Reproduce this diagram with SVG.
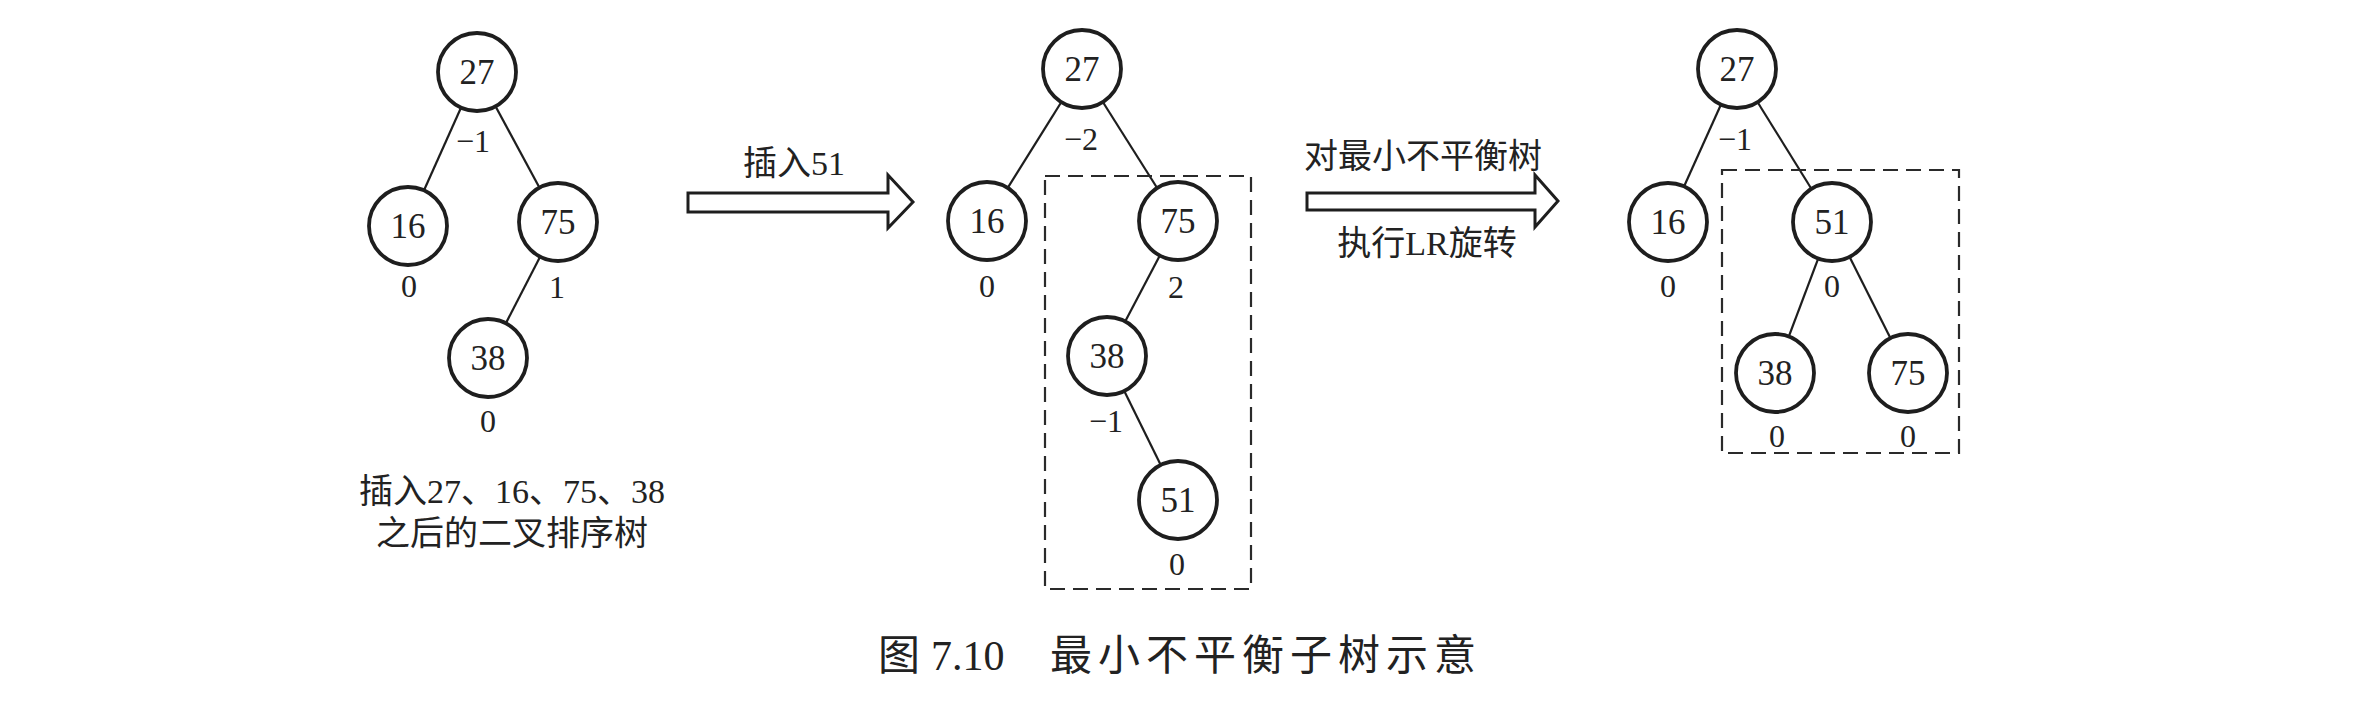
<svg xmlns="http://www.w3.org/2000/svg" width="2365" height="704" viewBox="0 0 2365 704">
<style>
.bg{fill:#ffffff}
.node circle{fill:#ffffff;stroke:#1e1e1e;stroke-width:3.8}
.node text{font-family:"Liberation Serif","Noto Sans CJK SC",serif;font-size:35px;fill:#222;text-anchor:middle}
.edge{stroke:#1e1e1e;stroke-width:2.2;fill:none}
.bf{font-family:"Liberation Serif","Noto Sans CJK SC",serif;font-size:32px;fill:#222;text-anchor:middle}
.box{fill:none;stroke:#2a2a2a;stroke-width:2.2;stroke-dasharray:15 8}
.arrow{fill:#ffffff;stroke:#1e1e1e;stroke-width:3;stroke-linejoin:miter}
.lbl{font-family:"Liberation Serif","Noto Sans CJK SC",serif;font-size:34px;fill:#222;text-anchor:middle}
.cap{font-family:"Liberation Serif","Noto Sans CJK SC",serif;font-size:42px;fill:#222}
</style>
<rect class="bg" x="0" y="0" width="2365" height="704"/>

<g id="connectors">
  <!-- left tree -->
  <line class="edge" x1="477" y1="72" x2="408" y2="226"/>
  <line class="edge" x1="477" y1="72" x2="558" y2="222"/>
  <line class="edge" x1="558" y1="222" x2="488" y2="358"/>
  <!-- middle tree -->
  <line class="edge" x1="1082" y1="69" x2="987" y2="221"/>
  <line class="edge" x1="1082" y1="69" x2="1178" y2="221"/>
  <line class="edge" x1="1178" y1="221" x2="1107" y2="356"/>
  <line class="edge" x1="1107" y1="356" x2="1178" y2="500"/>
  <!-- right tree -->
  <line class="edge" x1="1737" y1="69" x2="1668" y2="222"/>
  <line class="edge" x1="1737" y1="69" x2="1832" y2="222"/>
  <line class="edge" x1="1832" y1="222" x2="1775" y2="373"/>
  <line class="edge" x1="1832" y1="222" x2="1908" y2="373"/>
  <!-- block arrows -->
  <polygon class="arrow" points="688,193 888,193 888,175 913,202 888,228 888,212 688,212"/>
  <polygon class="arrow" points="1307,193 1535,193 1535,175 1558,201 1535,227 1535,210 1307,210"/>
</g>

<g id="boxes">
  <rect class="box" x="1045" y="176" width="206" height="413"/>
  <rect class="box" x="1722" y="170" width="237" height="283"/>
</g>

<!-- left tree nodes -->
<g id="L27" class="node"><circle cx="477" cy="72" r="39"/><text x="477" y="84">27</text></g>
<g id="L16" class="node"><circle cx="408" cy="226" r="39"/><text x="408" y="238">16</text></g>
<g id="L75" class="node"><circle cx="558" cy="222" r="39"/><text x="558" y="234">75</text></g>
<g id="L38" class="node"><circle cx="488" cy="358" r="39"/><text x="488" y="370">38</text></g>

<!-- middle tree nodes -->
<g id="M27" class="node"><circle cx="1082" cy="69" r="39"/><text x="1082" y="81">27</text></g>
<g id="M16" class="node"><circle cx="987" cy="221" r="39"/><text x="987" y="233">16</text></g>
<g id="M75" class="node"><circle cx="1178" cy="221" r="39"/><text x="1178" y="233">75</text></g>
<g id="M38" class="node"><circle cx="1107" cy="356" r="39"/><text x="1107" y="368">38</text></g>
<g id="M51" class="node"><circle cx="1178" cy="500" r="39"/><text x="1178" y="512">51</text></g>

<!-- right tree nodes -->
<g id="R27" class="node"><circle cx="1737" cy="69" r="39"/><text x="1737" y="81">27</text></g>
<g id="R16" class="node"><circle cx="1668" cy="222" r="39"/><text x="1668" y="234">16</text></g>
<g id="R51" class="node"><circle cx="1832" cy="222" r="39"/><text x="1832" y="234">51</text></g>
<g id="R38" class="node"><circle cx="1775" cy="373" r="39"/><text x="1775" y="385">38</text></g>
<g id="R75" class="node"><circle cx="1908" cy="373" r="39"/><text x="1908" y="385">75</text></g>

<g id="balance-factors">
  <text class="bf" x="473" y="152">−1</text>
  <text class="bf" x="409" y="297">0</text>
  <text class="bf" x="557" y="298">1</text>
  <text class="bf" x="488" y="432">0</text>

  <text class="bf" x="1081" y="150">−2</text>
  <text class="bf" x="987" y="297">0</text>
  <text class="bf" x="1176" y="298">2</text>
  <text class="bf" x="1106" y="432">−1</text>
  <text class="bf" x="1177" y="575">0</text>

  <text class="bf" x="1735" y="150">−1</text>
  <text class="bf" x="1668" y="297">0</text>
  <text class="bf" x="1832" y="297">0</text>
  <text class="bf" x="1777" y="447">0</text>
  <text class="bf" x="1908" y="447">0</text>
</g>

<g id="labels">
  <text class="lbl" x="794" y="175">插入51</text>
  <text class="lbl" x="1423" y="168">对最小不平衡树</text>
  <text class="lbl" x="1427" y="255">执行LR旋转</text>
  <text class="lbl" x="512" y="503">插入27、16、75、38</text>
  <text class="lbl" x="512" y="545">之后的二叉排序树</text>
</g>

<g id="caption">
  <text class="cap" y="670"><tspan x="878">图</tspan><tspan x="931">7.10</tspan><tspan x="1050" letter-spacing="6">最小不平衡子树示意</tspan></text>
</g>
</svg>
